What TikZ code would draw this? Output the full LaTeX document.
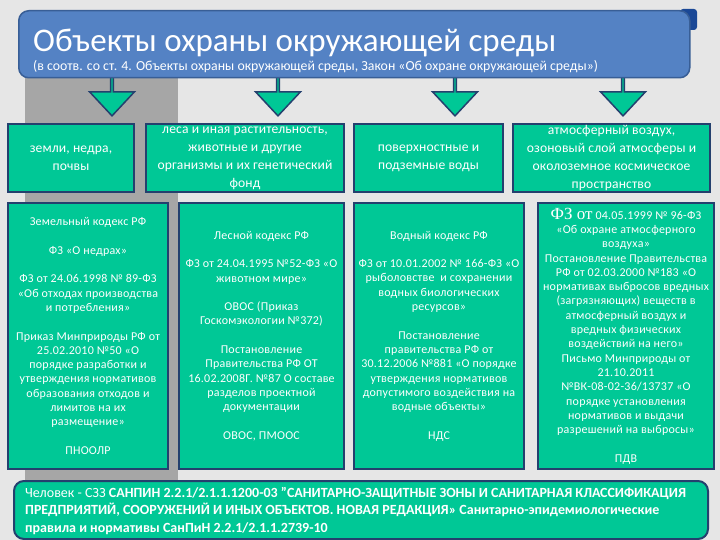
\documentclass[tikz,border=0pt]{standalone}
\usepackage{fontspec}
\setmainfont{Carlito}
\newfontfamily\serifx{Liberation Serif}
\newfontfamily\colfont[LetterSpace=2]{Carlito}
\newfontfamily\rowfont[LetterSpace=1]{Carlito}
\usetikzlibrary{shapes.arrows}
\definecolor{bgc}{RGB}{230,230,230}
\definecolor{stripec}{RGB}{166,166,166}
\definecolor{teal}{RGB}{0,200,150}
\definecolor{edgeblue}{RGB}{36,64,110}
\definecolor{titlefill}{RGB}{84,130,196}
\definecolor{titleedge}{RGB}{56,94,150}
\definecolor{tabc}{RGB}{26,72,150}
\begin{document}
\begin{tikzpicture}[x=1pt,y=-1pt,
  titlebox/.style={draw=titleedge, line width=1.5pt, fill=titlefill, rounded corners=10pt, inner sep=0pt},
  rowbox/.style={draw=edgeblue, line width=2pt, fill=teal, text=white, align=center, inner sep=0pt,
    font=\rowfont\fontsize{13.6}{18}\selectfont},
  colbox/.style={draw=edgeblue, line width=2pt, fill=teal, text=white, align=center, inner sep=0pt,
    font=\colfont\fontsize{12}{14.3}\selectfont},
  botbox/.style={draw=edgeblue, line width=2pt, fill=teal, rounded corners=10pt, inner sep=0pt},
  blockarrow/.style={single arrow, draw=edgeblue, line width=1.5pt, fill=teal, inner sep=0pt,
    shape border rotate=270, minimum width=45pt, minimum height=44pt,
    single arrow head extend=12.5pt, single arrow tip angle=86, anchor=tip}
]
\useasboundingbox (0,0) rectangle (720,540);
\fill[bgc] (0,0) rectangle (720,540);
\fill[stripec] (25,70) rectangle (178,480);
\fill[tabc, rounded corners=3pt] (680,9) rectangle (697,30);

% arrows (drawn first, title covers their tails)
\node[blockarrow] (a1) at (112,117) {};
\node[blockarrow] (a2) at (278,117) {};
\node[blockarrow] (a3) at (455,117) {};
\node[blockarrow] (a4) at (623,117) {};

% title
\node[titlebox, anchor=north west, minimum width=671pt, minimum height=67pt] (title) at (18,10) {};
\node[anchor=base west, text=white, inner sep=0pt, font=\fontsize{33}{40}\selectfont] (ttl) at (33,52)
  {Объекты охраны окружающей среды};
\node[anchor=base west, text=white, inner sep=0pt, font=\fontsize{13.8}{16}\selectfont] (sub) at (33,71)
  {(в соотв. со ст. 4. Объекты охраны окружающей среды, Закон «Об охране окружающей среды»)};

% row boxes
\node[rowbox, anchor=north west, minimum width=126pt, minimum height=68pt] (b1) at (7,123)
  {земли, недра,\\почвы};
\node[rowbox, anchor=north west, minimum width=198pt, minimum height=68pt] (b2) at (145,123)
  {леса и иная растительность,\\животные и другие\\организмы и их генетический\\фонд};
\node[rowbox, anchor=north west, minimum width=149pt, minimum height=68pt] (b3) at (353,123)
  {поверхностные и\\подземные воды};
\node[rowbox, anchor=north west, minimum width=197pt, minimum height=68pt] (b4) at (512,123)
  {атмосферный воздух,\\озоновый слой атмосферы и\\околоземное космическое\\пространство};

% column boxes
\node[colbox, anchor=north west, minimum width=160pt, minimum height=266pt] (c1) at (7,202)
  {Земельный кодекс РФ\\[14.3pt]
   ФЗ «О недрах»\\[14.3pt]
   ФЗ от 24.06.1998 № 89-ФЗ\\
   «Об отходах производства\\
   и потребления»\\[14.3pt]
   Приказ Минприроды РФ от\\
   25.02.2010 №50 «О\\
   порядке разработки и\\
   утверждения нормативов\\
   образования отходов и\\
   лимитов на их\\
   размещение»\\[14.3pt]
   ПНООЛР};
\node[colbox, anchor=north west, minimum width=165pt, minimum height=266pt] (c2) at (178,202)
  {Лесной кодекс РФ\\[14.3pt]
   ФЗ от 24.04.1995 №52-ФЗ «О\\
   животном мире»\\[14.3pt]
   ОВОС (Приказ\\
   Госкомэкологии №372)\\[14.3pt]
   Постановление\\
   Правительства РФ ОТ\\
   16.02.2008Г. №87 О составе\\
   разделов проектной\\
   документации\\[14.3pt]
   ОВОС, ПМООС};
\node[colbox, anchor=north west, minimum width=170pt, minimum height=266pt] (c3) at (353,202)
  {Водный кодекс РФ\\[14.3pt]
   ФЗ от 10.01.2002 № 166-ФЗ «О\\
   рыболовстве~ и сохранении\\
   водных биологических\\
   ресурсов»\\[14.3pt]
   Постановление\\
   правительства РФ от\\
   30.12.2006 №881 «О порядке\\
   утверждения нормативов\\
   допустимого воздействия на\\
   водные объекты»\\[14.3pt]
   НДС};
\node[colbox, anchor=north west, minimum width=176pt, minimum height=266pt] (c4) at (537,202)
  {{\serifx\fontsize{17}{17}\selectfont ФЗ от} 04.05.1999 № 96-ФЗ\\
   «Об охране атмосферного\\
   воздуха»\\
   Постановление Правительства\\
   РФ от 02.03.2000 №183 «О\\
   нормативах выбросов вредных\\
   (загрязняющих) веществ в\\
   атмосферный воздух и\\
   вредных физических\\
   воздействий на него»\\
   Письмо Минприроды от\\
   21.10.2011\\
   №ВК-08-02-36/13737 «О\\
   порядке установления\\
   нормативов и выдачи\\
   разрешений на выбросы»\\[14.3pt]
   ПДВ};

% bottom box
\node[botbox, anchor=north west, minimum width=694pt, minimum height=58pt] (bot) at (13,480) {};
\node[anchor=north west, inner sep=0pt, align=left, text=white, font=\fontsize{14}{17.5}\selectfont] (bottxt) at (25,487)
  {Человек - СЗЗ \textbf{САНПИН 2.2.1/2.1.1.1200-03 "САНИТАРНО-ЗАЩИТНЫЕ ЗОНЫ И САНИТАРНАЯ КЛАССИФИКАЦИЯ}\\
   \textbf{ПРЕДПРИЯТИЙ, СООРУЖЕНИЙ И ИНЫХ ОБЪЕКТОВ. НОВАЯ РЕДАКЦИЯ» Санитарно-эпидемиологические}\\
   \textbf{правила и нормативы СанПиН 2.2.1/2.1.1.2739-10}};
\end{tikzpicture}
\end{document}
